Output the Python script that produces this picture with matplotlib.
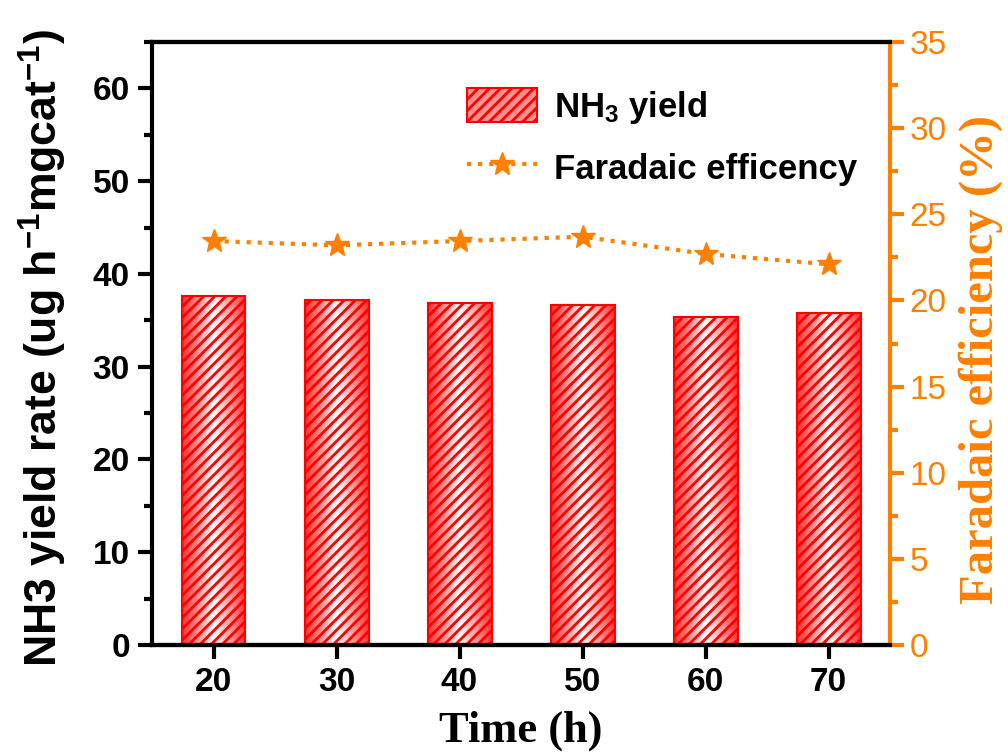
import matplotlib.pyplot as plt
import numpy as np
from matplotlib.patches import Patch
from matplotlib.lines import Line2D
from matplotlib.colors import LinearSegmentedColormap
from matplotlib.ticker import MultipleLocator

time_h = [20, 30, 40, 50, 60, 70]
nh3_yield = [37.6, 37.2, 36.9, 36.7, 35.4, 35.8]
faradaic_eff = [23.45, 23.2, 23.45, 23.7, 22.7, 22.1]

orange = '#ff8000'
sans = 'Liberation Sans'
serif = 'Liberation Serif'

plt.rcParams['hatch.linewidth'] = 2.0
plt.rcParams['font.family'] = sans
plt.rcParams['mathtext.fontset'] = 'custom'
plt.rcParams['mathtext.rm'] = 'Liberation Sans:bold'
plt.rcParams['mathtext.bf'] = 'Liberation Sans:bold'
plt.rcParams['mathtext.default'] = 'regular'

fig = plt.figure(figsize=(10.08, 7.56), dpi=100)
ax = fig.add_axes([0.1508, 0.1468, 0.7322, 0.7976])
ax2 = ax.twinx()

# bars with a red-white-red sheen under the hatch
bars = ax.bar(time_h, nh3_yield, width=5.2, facecolor='none', edgecolor='red',
              hatch='///', linewidth=1.5, zorder=3)
sheen = LinearSegmentedColormap.from_list('sheen', ['#ff3030', '#ff9090', '#ffffff', '#ff9a9a', '#ff3030'])
grad = np.linspace(0, 1, 256).reshape(1, -1)
for b in bars:
    x0, y0 = b.get_x(), b.get_y()
    im = ax.imshow(grad, cmap=sheen, aspect='auto', zorder=2,
                   extent=[x0, x0 + b.get_width(), y0, y0 + b.get_height()])
    im.set_clip_path(b)

ax2.plot(time_h, faradaic_eff, linestyle=':', color=orange, linewidth=3,
         marker='*', markersize=18, markerfacecolor=orange,
         markeredgecolor=orange, markeredgewidth=1, zorder=4)

ax.set_xlim(15, 75)
ax.set_ylim(0, 65)
ax2.set_ylim(0, 35)
ax.set_xticks(time_h)
ax.yaxis.set_major_locator(MultipleLocator(10))
ax.yaxis.set_minor_locator(MultipleLocator(5))
ax2.yaxis.set_major_locator(MultipleLocator(5))
ax2.yaxis.set_minor_locator(MultipleLocator(2.5))

for sp in ax.spines.values():
    sp.set_linewidth(3)
for sp in ax2.spines.values():
    sp.set_linewidth(3)
ax2.spines['right'].set_color(orange)
ax.spines['right'].set_visible(False)
ax2.spines['left'].set_visible(False)

ax.tick_params(axis='both', which='major', direction='out', length=10, width=3,
               labelsize=24, pad=6)
ax.tick_params(axis='y', which='minor', direction='out', length=6, width=3)
ax2.tick_params(axis='y', which='major', direction='out', length=10, width=3,
                color=orange, labelcolor=orange, labelsize=24, pad=4)
ax2.tick_params(axis='y', which='minor', direction='out', length=6, width=3, color=orange)
for lab in ax.get_xticklabels() + ax.get_yticklabels():
    lab.set_fontweight('bold')

ax.set_ylabel('NH3 yield rate (ug h$^{-1}$mgcat$^{-1}$)', fontsize=32, fontweight='bold')
ax.yaxis.set_label_coords(-0.112, 0.492)
ax2.set_ylabel('Faradaic efficiency (%)', fontsize=35, fontweight='bold',
               family=serif, color=orange)
ax2.yaxis.set_label_coords(1.093, 0.473)
ax.set_xlabel('Time (h)', fontsize=32, fontweight='bold', family=serif, labelpad=9)

handles = [
    Patch(facecolor='#ff9090', edgecolor='red', hatch='///', linewidth=1.5),
    Line2D([0], [0], linestyle=':', color=orange, linewidth=3, marker='*', markersize=18,
           markerfacecolor=orange, markeredgecolor=orange),
]
leg = ax.legend(handles, ['NH$_3$ yield', 'Faradaic efficency'],
                loc='upper left', bbox_to_anchor=(0.385, 0.975), frameon=False,
                prop={'family': sans, 'weight': 'bold', 'size': 25},
                handlelength=2.0, handleheight=1.1, labelspacing=0.7, handletextpad=0.5)

fig.savefig('out.png', dpi=100)
